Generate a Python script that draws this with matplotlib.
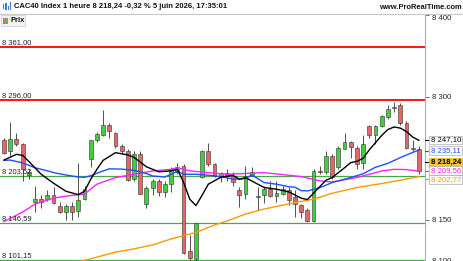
import matplotlib
matplotlib.use("Agg")
import matplotlib.pyplot as plt
from matplotlib.patches import Rectangle
from matplotlib.lines import Line2D
import numpy as np

plt.rcParams["font.family"] = ["Liberation Sans", "DejaVu Sans"]

# hourly candles
opens = [8248, 8234, 8249, 8243, 8205, 8172, 8176, 8175, 8180, 8167,
         8160, 8167, 8161, 8176, 8224, 8247, 8254, 8266, 8256, 8240,
         8234, 8200, 8231, 8170, 8189, 8198, 8184, 8194, 8208, 8216,
         8112, 8103, 8202, 8234, 8218, 8204, 8207, 8204, 8186, 8182,
         8204, 8178, 8180, 8188, 8179, 8182, 8186, 8178, 8168, 8162,
         8149, 8210, 8208, 8228, 8214, 8237, 8245, 8238, 8220, 8264,
         8254, 8265, 8275, 8288, 8290, 8268, 8238, 8237]
highs = [8250, 8269, 8256, 8244, 8212, 8191, 8180, 8186, 8190, 8172,
         8170, 8172, 8220, 8192, 8248, 8257, 8284, 8268, 8257, 8243,
         8236, 8234, 8234, 8192, 8200, 8200, 8198, 8214, 8220, 8218,
         8132, 8146, 8235, 8244, 8220, 8208, 8212, 8208, 8190, 8216,
         8214, 8190, 8192, 8198, 8198, 8192, 8190, 8186, 8170, 8165,
         8212, 8216, 8234, 8230, 8240, 8256, 8246, 8240, 8254, 8266,
         8266, 8278, 8290, 8294, 8293, 8270, 8248, 8240]
lows = [8230, 8228, 8240, 8198, 8200, 8160, 8164, 8173, 8170, 8158,
        8150, 8150, 8154, 8174, 8215, 8245, 8252, 8250, 8238, 8230,
        8198, 8198, 8182, 8165, 8180, 8179, 8178, 8184, 8206, 8108,
        8100, 8100, 8201, 8216, 8202, 8196, 8198, 8192, 8166, 8176,
        8203, 8162, 8171, 8178, 8172, 8180, 8168, 8154, 8152, 8147,
        8147, 8206, 8206, 8200, 8212, 8236, 8226, 8212, 8212, 8250,
        8242, 8263, 8273, 8282, 8266, 8236, 8234, 8206]
closes = [8232, 8249, 8242, 8212, 8208, 8175, 8172, 8181, 8171, 8160,
          8167, 8160, 8174, 8188, 8247, 8255, 8266, 8258, 8240, 8234,
          8199, 8231, 8182, 8189, 8198, 8184, 8194, 8212, 8214, 8110,
          8104, 8146, 8234, 8218, 8204, 8207, 8204, 8196, 8180, 8204,
          8208, 8179, 8188, 8179, 8183, 8188, 8174, 8170, 8160, 8149,
          8210, 8208, 8228, 8202, 8238, 8245, 8239, 8218, 8242, 8254,
          8264, 8277, 8285, 8287, 8268, 8238, 8236, 8210]

# moving averages (candle index, value)
ma_black_x = [0, 2, 3, 4, 6, 8, 10, 12, 13, 14, 15, 16, 18, 20, 21, 23, 25,
              27, 28, 29, 30, 31, 32, 33, 35, 37, 38, 39, 40, 42, 44, 46, 48,
              49, 50, 52, 53, 55, 56, 57, 58, 59, 61, 62, 63, 64, 65, 66, 67]
ma_black = [8223, 8230, 8228.7, 8221.4, 8205.7, 8194.8, 8185, 8180.8, 8185,
            8199.6, 8211.7, 8222.6, 8232, 8229.3, 8226.3, 8214.8, 8208.7,
            8209.9, 8211.7, 8196, 8175.4, 8167.5, 8180.2, 8193.6, 8202,
            8204.5, 8199.6, 8201.7, 8197.6, 8189.6, 8187.5, 8184.2, 8176.6,
            8174.8, 8182.7, 8198.4, 8201.7, 8213.6, 8219.9, 8221.4, 8225.1,
            8235.4, 8253, 8260.2, 8263.3, 8262, 8257.8, 8251.1, 8247.1]
ma_blue_x = [0, 1, 3, 5, 7, 8, 10, 12, 13, 14, 15, 16, 17, 19, 21, 23, 24,
             26, 28, 29, 31, 34, 36, 37, 39, 40, 42, 44, 46, 47, 48, 49, 51,
             53, 56, 58, 60, 62, 64, 66, 67]
ma_blue = [8222.6, 8223, 8219.6, 8213.6, 8209.9, 8207.7, 8204.8, 8202.4,
           8202, 8203.9, 8206.9, 8209.7, 8212.3, 8212, 8210.5, 8206.5,
           8203.6, 8202.4, 8209.3, 8205.7, 8205.7, 8203.9, 8201.4, 8199.6,
           8200.2, 8205, 8195.6, 8193.6, 8190.5, 8189.9, 8185.7, 8185.4,
           8189.3, 8195.6, 8201.7, 8206.3, 8214.2, 8219, 8225.9, 8232.3,
           8235.1]
ma_pink_x = [0, 3, 5, 8, 10, 12, 13, 15, 18, 21, 24, 27, 28, 30, 33, 36, 42,
             48, 51, 53, 57, 61, 63, 65, 67]
ma_pink = [8148.1, 8159.6, 8169.3, 8176.6, 8179, 8180.8, 8181.4, 8193.6,
           8201.7, 8205.7, 8209.7, 8211.7, 8213.6, 8209.9, 8207.7, 8205.7,
           8207.7, 8202.9, 8197.6, 8196.4, 8201.7, 8209.7, 8211.7, 8211.4,
           8209.6]
ma_orange_x = [12, 14, 15, 18, 21, 24, 27, 31, 34, 36, 39, 42, 45, 47, 50,
               53, 57, 61, 64, 67]
ma_orange = [8099, 8102.6, 8104.7, 8110.8, 8114.8, 8119.6, 8126.9, 8134.8,
             8143.9, 8148.7, 8157.2, 8163.3, 8168.1, 8171.1, 8175.4, 8182.6,
             8189.5, 8194.4, 8198.4, 8202.8]

red_levels = [8361.00, 8296.00]
green_levels = [8203.62, 8146.59, 8101.15]
right_ticks = [8400, 8300, 8150, 8100]

tag_texts = ["8 247,10", "8 235,11", "8 218,24", "8 209,56", "8 202,77"]
tag_colors = ["#000000", "#1f4fff", "#000000", "#ff22ff", "#ff9900"]

W, H = 464, 261
fig = plt.figure(figsize=(W / 100, H / 100), dpi=100)


def fx(px):
    return px / W


def fy(py):
    return 1 - py / H


plot_right = 425
plot_top = 14
ax = fig.add_axes([0, 0, fx(plot_right), 1 - plot_top / H])
ax.set_xlim(-0.65, 68.0)
ax.set_ylim(8102.6, 8401)
for s in ["top", "left", "bottom"]:
    ax.spines[s].set_visible(False)
ax.spines["right"].set_color("#b0b0b0")
ax.spines["right"].set_linewidth(0.8)
ax.set_xticks([])
ax.yaxis.tick_right()
ax.set_yticks(right_ticks)
ax.set_yticklabels([f"{v // 1000} {v % 1000:03d}" for v in right_ticks])
ax.tick_params(axis="y", length=3, width=0.6, color="#555555", pad=2,
               labelsize=5.6, labelcolor="#222222")
# top label sits just under the frame, bottom one is half cut like the original
ax.get_yticklabels()[0].set_verticalalignment("top")

# horizontal levels
for lvl in red_levels:
    ax.axhline(lvl, color="#ff0000", lw=1.3, zorder=1)
for lvl in green_levels:
    ax.axhline(lvl, color="#44aa44", lw=0.9, zorder=1)


def fmt(v):
    return f"{v:,.2f}".replace(",", " ").replace(".", ",")


for lvl in red_levels + green_levels:
    ax.text(-0.35, lvl + 1.2, fmt(lvl), fontsize=5.4, color="#222222",
            va="bottom", ha="left", zorder=5)

# candles
idx = np.arange(len(opens))
o = np.array(opens, float)
c = np.array(closes, float)
up = c >= o
ax.vlines(idx, lows, highs, color="#333333", lw=0.6, zorder=2)
bottom = np.minimum(o, c)
height = np.maximum(np.abs(c - o), 0.8)
ax.bar(idx[up], height[up], bottom=bottom[up], width=0.62, color="#3fcf3f",
       edgecolor="#333333", linewidth=0.4, zorder=3)
ax.bar(idx[~up], height[~up], bottom=bottom[~up], width=0.62, color="#e56666",
       edgecolor="#333333", linewidth=0.4, zorder=3)

# moving averages
ax.plot(ma_orange_x, ma_orange, color="#ff9900", lw=1.0, zorder=4)
ax.plot(ma_pink_x, ma_pink, color="#ff22ff", lw=1.0, zorder=4)
ax.plot(ma_blue_x, ma_blue, color="#1f4fff", lw=1.0, zorder=4)
ax.plot(ma_black_x, ma_black, color="#000000", lw=1.0, zorder=4)

# right side tags
tag_y = [140, 150.7, 162.3, 170.7, 179.3]
for t, col, yp in zip(tag_texts, tag_colors, tag_y):
    last = t == "8 218,24"
    face = "#f7c634" if last else "#ffffff"
    edge = "#999999" if not last else "#d9a400"
    fig.patches.append(Rectangle((fx(429), fy(yp + 4.2)), fx(33), 8.4 / H,
                                 transform=fig.transFigure, facecolor=face,
                                 edgecolor=edge, linewidth=0.4, zorder=5))
    fig.lines.append(Line2D([fx(425), fx(428)], [fy(yp), fy(yp)],
                            transform=fig.transFigure, color=col, lw=0.8))
    fig.text(fx(431), fy(yp), t, fontsize=5.6, color=col, va="center",
             ha="left", fontweight="bold" if last else "normal", zorder=6)

# header
fig.lines.append(Line2D([0, 1], [fy(13.5), fy(13.5)], transform=fig.transFigure,
                        color="#c8c8c8", lw=0.8))
for k, (hh, bb) in enumerate([(5, 3), (7, 2), (4, 5), (8, 1)]):
    fig.patches.append(Rectangle((fx(3 + k * 2.3), fy(bb + hh + 1)), fx(1.4),
                                 hh / H, transform=fig.transFigure,
                                 facecolor="#3a7bd5", edgecolor="none"))
fig.text(fx(14), fy(7), "CAC40 Index 1 heure 8 218,24 -0,32 % 5 juin 2026, 17:35:01",
         fontsize=5.5, fontweight="bold", color="#111111", va="center", ha="left")
fig.text(fx(462), fy(7.5), "www.ProRealTime.com", fontsize=5.4, fontweight="bold",
         color="#111111", va="center", ha="right")

# legend "Prix"
fig.patches.append(Rectangle((fx(0.5), fy(26)), fx(25), 11 / H,
                             transform=fig.transFigure, facecolor="#f4f4f4",
                             edgecolor="#cccccc", linewidth=0.5, zorder=5))
fig.patches.append(Rectangle((fx(2.5), fy(23.5)), fx(3), 6 / H,
                             transform=fig.transFigure, facecolor="#e56666",
                             edgecolor="none", zorder=6))
fig.patches.append(Rectangle((fx(5.5), fy(23.5)), fx(3), 6 / H,
                             transform=fig.transFigure, facecolor="#3fcf3f",
                             edgecolor="none", zorder=6))
fig.text(fx(11), fy(20.5), "Prix", fontsize=5.4, fontweight="bold",
         color="#111111", va="center", ha="left", zorder=7)

fig.savefig("out.png", dpi=100)
